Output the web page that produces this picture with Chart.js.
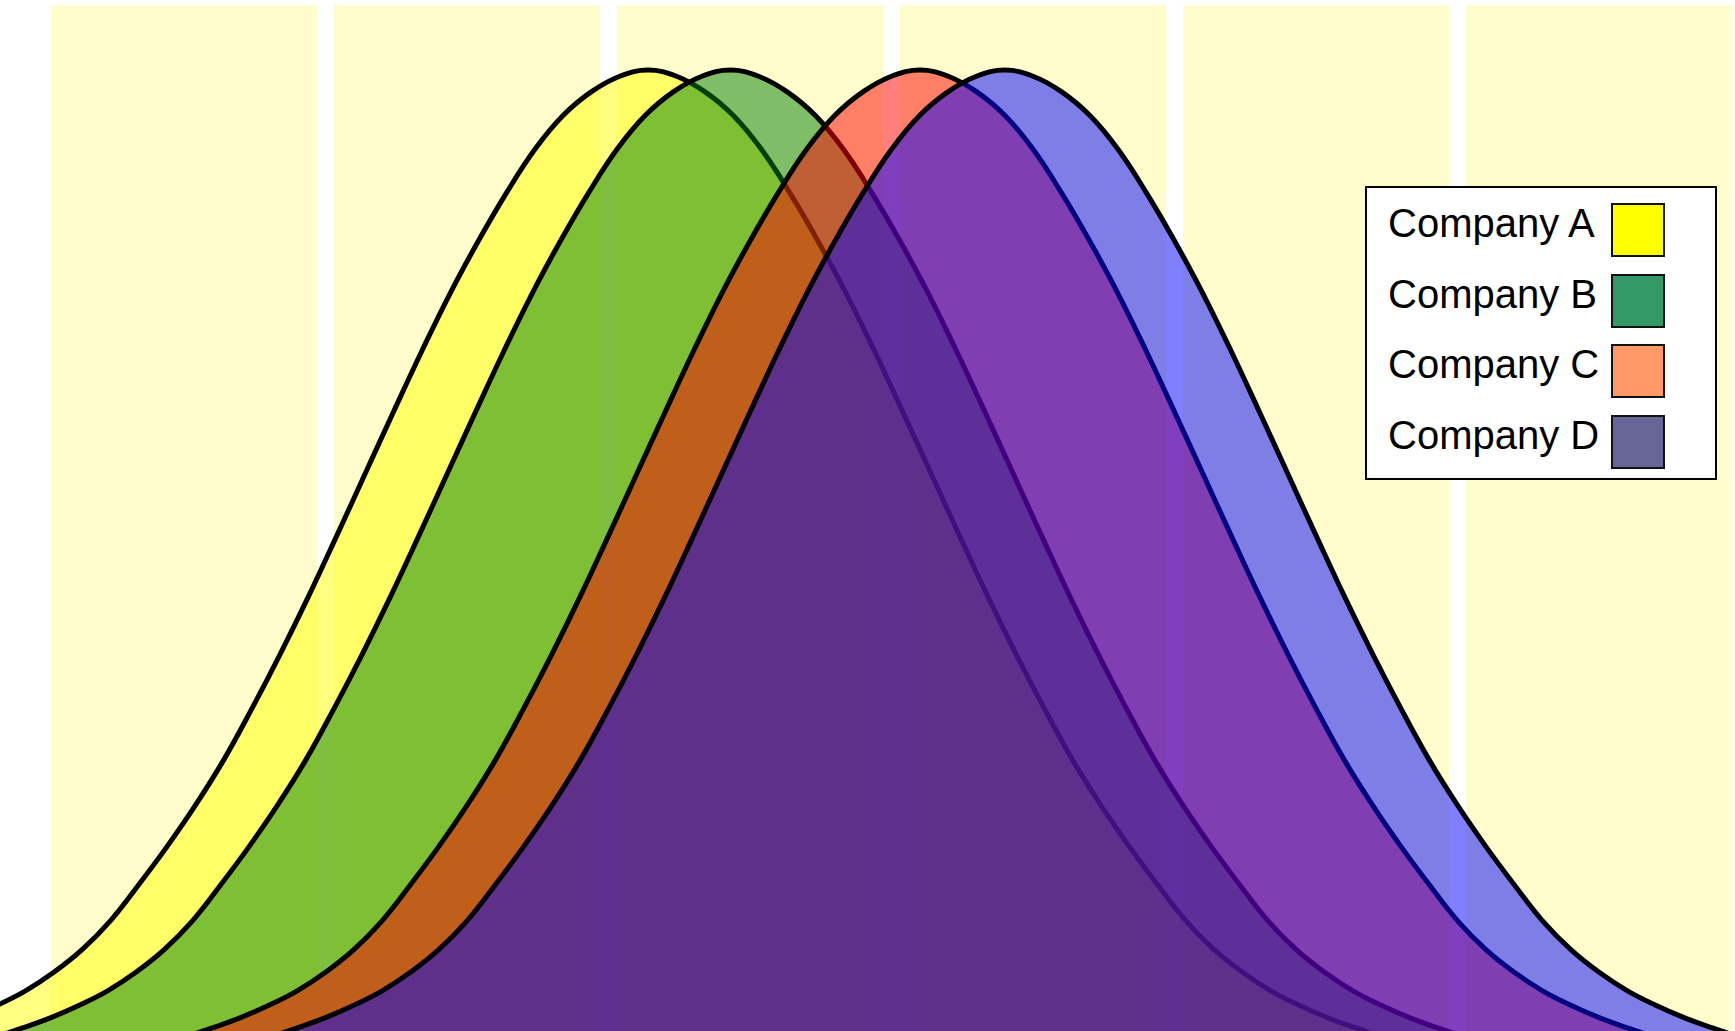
<!DOCTYPE html>
<html>
<head>
<meta charset="utf-8">
<title>Company A - D</title>
<script src="https://cdn.jsdelivr.net/npm/chart.js@4.4.1/dist/chart.umd.min.js"></script>
<style>
    html, body { margin: 0; padding: 0; background: #fff; }
    #wrap { position: relative; width: 1735px; height: 1031px; overflow: hidden; }
    #legend {
        position: absolute; left: 1365px; top: 186px; width: 352px; height: 294px;
        box-sizing: border-box; background: #fff; border: 2px solid #000; padding-top: 15px;
        font-family: "Liberation Sans", Arial, sans-serif;
    }
    .legend-row { position: relative; height: 70.67px; }
    .legend-text {
        position: absolute; left: 21px; top: -7px; font-size: 40px; line-height: 54px;
        color: #000; white-space: nowrap;
    }
    .legend-box {
        position: absolute; left: 244px; top: 0; width: 54px; height: 54px;
        box-sizing: border-box; border: 2px solid #111;
    }
</style>
</head>
<body>
<div id="wrap">
    <canvas id="curves"></canvas>
    <div id="legend"></div>
</div>
<script>
const companies = ['Company A', 'Company B', 'Company C', 'Company D'];

// x positions and heights (peak = 100)
const companyAX = [-6.6, -5.6, -4.6, -3.6, -2.6, -1.6, -0.6, 0.4, 1.4, 2.4, 3.4, 4.4, 5.4, 6.4, 7.4, 8.4, 9.4, 10.4, 11.4, 12.4, 13.4, 14.4, 15.4, 16.4, 17.4, 18.4, 19.4, 20.4, 21.4, 22.4, 23.4, 24.4, 25.4, 26.4, 27.4, 28.4, 29.4, 30.4, 31.4, 32.4, 33.4, 34.4, 35.4, 36.4, 37.4, 38.4, 39.4, 40.4, 41.4, 42.4, 43.4, 44.4, 45.4, 46.4, 47.4, 48.4, 49.4];
const companyAY = [4.6, 5.3, 6.1, 7.0, 8.0, 9.2, 10.6, 12.4, 14.6, 17.4, 20.9, 24.6, 28.6, 33.0, 38.0, 43.3, 48.9, 54.8, 60.8, 66.8, 72.7, 78.3, 83.4, 88.1, 92.3, 95.6, 97.9, 99.4, 100, 99.4, 97.9, 95.6, 92.3, 88.1, 83.4, 78.3, 72.7, 66.8, 60.8, 54.8, 48.9, 43.3, 38.0, 33.0, 28.6, 24.6, 20.9, 17.4, 14.6, 12.4, 10.6, 9.2, 8.0, 7.0, 6.1, 5.3, 4.6];

const companyBX = [-3.7, -2.7, -1.7, -0.7, 0.3, 1.3, 2.3, 3.3, 4.3, 5.3, 6.3, 7.3, 8.3, 9.3, 10.3, 11.3, 12.3, 13.3, 14.3, 15.3, 16.3, 17.3, 18.3, 19.3, 20.3, 21.3, 22.3, 23.3, 24.3, 25.3, 26.3, 27.3, 28.3, 29.3, 30.3, 31.3, 32.3, 33.3, 34.3, 35.3, 36.3, 37.3, 38.3, 39.3, 40.3, 41.3, 42.3, 43.3, 44.3, 45.3, 46.3, 47.3, 48.3, 49.3, 50.3, 51.3, 52.3];
const companyBY = [4.6, 5.3, 6.1, 7.0, 8.0, 9.2, 10.6, 12.4, 14.6, 17.4, 20.9, 24.6, 28.6, 33.0, 38.0, 43.3, 48.9, 54.8, 60.8, 66.8, 72.7, 78.3, 83.4, 88.1, 92.3, 95.6, 97.9, 99.4, 100, 99.4, 97.9, 95.6, 92.3, 88.1, 83.4, 78.3, 72.7, 66.8, 60.8, 54.8, 48.9, 43.3, 38.0, 33.0, 28.6, 24.6, 20.9, 17.4, 14.6, 12.4, 10.6, 9.2, 8.0, 7.0, 6.1, 5.3, 4.6];

const companyCX = [3, 4, 5, 6, 7, 8, 9, 10, 11, 12, 13, 14, 15, 16, 17, 18, 19, 20, 21, 22, 23, 24, 25, 26, 27, 28, 29, 30, 31, 32, 33, 34, 35, 36, 37, 38, 39, 40, 41, 42, 43, 44, 45, 46, 47, 48, 49, 50, 51, 52, 53, 54, 55, 56, 57, 58, 59];
const companyCY = [4.6, 5.3, 6.1, 7.0, 8.0, 9.2, 10.6, 12.4, 14.6, 17.4, 20.9, 24.6, 28.6, 33.0, 38.0, 43.3, 48.9, 54.8, 60.8, 66.8, 72.7, 78.3, 83.4, 88.1, 92.3, 95.6, 97.9, 99.4, 100, 99.4, 97.9, 95.6, 92.3, 88.1, 83.4, 78.3, 72.7, 66.8, 60.8, 54.8, 48.9, 43.3, 38.0, 33.0, 28.6, 24.6, 20.9, 17.4, 14.6, 12.4, 10.6, 9.2, 8.0, 7.0, 6.1, 5.3, 4.6];

const companyDX = [6, 7, 8, 9, 10, 11, 12, 13, 14, 15, 16, 17, 18, 19, 20, 21, 22, 23, 24, 25, 26, 27, 28, 29, 30, 31, 32, 33, 34, 35, 36, 37, 38, 39, 40, 41, 42, 43, 44, 45, 46, 47, 48, 49, 50, 51, 52, 53, 54, 55, 56, 57, 58, 59, 60, 61, 62];
const companyDY = [4.6, 5.3, 6.1, 7.0, 8.0, 9.2, 10.6, 12.4, 14.6, 17.4, 20.9, 24.6, 28.6, 33.0, 38.0, 43.3, 48.9, 54.8, 60.8, 66.8, 72.7, 78.3, 83.4, 88.1, 92.3, 95.6, 97.9, 99.4, 100, 99.4, 97.9, 95.6, 92.3, 88.1, 83.4, 78.3, 72.7, 66.8, 60.8, 54.8, 48.9, 43.3, 38.0, 33.0, 28.6, 24.6, 20.9, 17.4, 14.6, 12.4, 10.6, 9.2, 8.0, 7.0, 6.1, 5.3, 4.6];

const fillColors = ['rgba(255, 255, 0, 0.5)', 'rgba(0, 128, 0, 0.5)', 'rgba(255, 0, 0, 0.5)', 'rgba(0, 0, 255, 0.5)'];
const legendColors = ['#FFFF00', '#339966', '#FF9966', '#666699'];

// background columns
const bandStarts = [0.3, 10.3, 20.3, 30.3, 40.3, 50.3];
const bandEnds = [9.7, 19.7, 29.7, 39.7, 49.7, 59.7];
const bandTop = 106.3;
const bandColor = '#FFFDCC';

function toPoints(xs, ys) {
    return xs.map((x, i) => ({ x, y: ys[i] }));
}

const seriesX = [companyAX, companyBX, companyCX, companyDX];
const seriesY = [companyAY, companyBY, companyCY, companyDY];

const bandsPlugin = {
    id: 'bands',
    beforeDatasetsDraw(chart) {
        const { ctx, chartArea } = chart;
        const x = chart.scales.x;
        const y = chart.scales.y;
        const top = y.getPixelForValue(bandTop);

        ctx.save();
        ctx.fillStyle = bandColor;
        bandStarts.forEach((start, i) => {
            const left = x.getPixelForValue(start);
            const right = x.getPixelForValue(bandEnds[i]);
            ctx.fillRect(left, top, right - left, chartArea.bottom - top);
        });
        ctx.restore();
    }
};

function buildLegend() {
    const legenda = document.getElementById('legend');
    if (!legenda) return;
    legenda.innerHTML = '';

    companies.forEach((nome, index) => {
        const linha = document.createElement('div');
        linha.classList.add('legend-row');
        linha.innerHTML = `
            <span class="legend-text">${nome}</span>
            <span class="legend-box" style="background:${legendColors[index]}"></span>
        `;
        legenda.appendChild(linha);
    });
}

const canvas = document.getElementById('curves');
canvas.width = 1735;
canvas.height = 1031;

new Chart(canvas.getContext('2d'), {
    type: 'line',
    data: {
        datasets: companies.map((nome, i) => ({
            label: nome,
            data: toPoints(seriesX[i], seriesY[i]),
            backgroundColor: fillColors[i],
            borderColor: '#000',
            borderWidth: 5,
            fill: 'origin',
            pointRadius: 0,
            tension: 0.4,
            // A at the bottom, D on top
            order: companies.length - 1 - i
        }))
    },
    options: {
        responsive: false,
        animation: false,
        devicePixelRatio: 1,
        layout: { padding: 0 },
        plugins: {
            legend: { display: false },
            tooltip: { enabled: false }
        },
        scales: {
            x: { type: 'linear', min: -1.5, max: 59.8, display: false },
            y: { min: 6.7, max: 106.8, display: false }
        }
    },
    plugins: [bandsPlugin]
});

buildLegend();
</script>
</body>
</html>
